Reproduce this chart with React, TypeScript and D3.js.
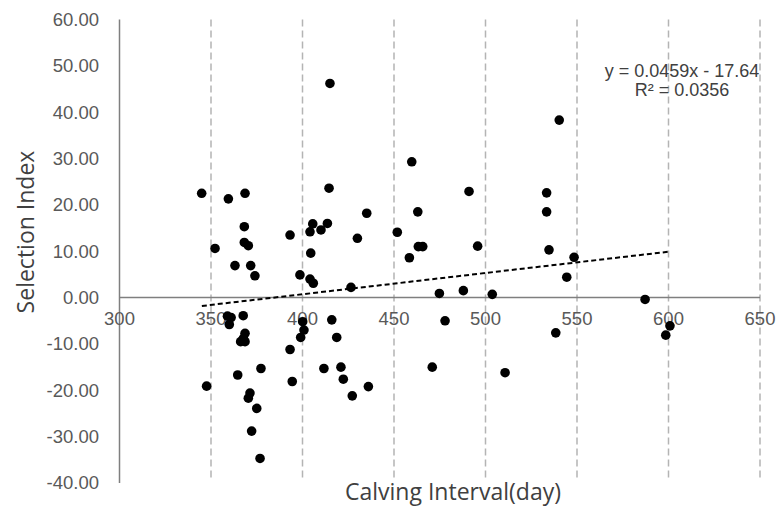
import { useEffect, useRef } from 'react'
import * as d3 from 'd3'

// calving interval (day) and selection index
const calvingDays = [
  344.9, 359.5, 368.6, 368.2, 352.2, 368.2, 370.4, 415.0, 414.5, 435.1,
  405.6, 413.6, 410.1, 404.1, 393.2, 430.0, 404.5, 363.1, 371.7, 374.0,
  398.6, 404.1, 405.9, 426.5, 359.0, 361.0, 360.0, 367.6, 368.6, 367.7,
  366.2, 368.6, 400.1, 400.8, 399.0, 393.2, 416.0, 418.7, 377.3, 364.6,
  347.6, 394.4, 411.7, 421.0, 422.3, 436.0, 427.2, 371.3, 370.4, 375.0,
  372.2, 376.8, 459.7, 491.0, 533.4, 540.3, 463.0, 533.4, 451.8, 463.3,
  465.7, 495.7, 534.7, 458.4, 544.4, 474.8, 487.9, 503.7, 477.9, 538.4,
  470.9, 510.7, 548.4, 587.2, 600.8, 598.5
]
const selectionIndex = [
  22.5, 21.3, 22.5, 15.3, 10.6, 11.9, 11.2, 46.2, 23.6, 18.2,
  15.9, 16.0, 14.6, 14.2, 13.5, 12.8, 9.6, 6.9, 6.9, 4.7,
  4.9, 4.0, 3.1, 2.2, -4.0, -4.3, -5.8, -3.9, -7.7, -8.8,
  -9.5, -9.5, -5.2, -7.0, -8.6, -11.2, -4.8, -8.6, -15.3, -16.7,
  -19.1, -18.1, -15.3, -15.0, -17.6, -19.2, -21.2, -20.6, -21.7, -23.9,
  -28.8, -34.7, 29.3, 22.9, 22.6, 38.3, 18.5, 18.5, 14.1, 11.0,
  11.0, 11.1, 10.3, 8.6, 4.4, 0.9, 1.5, 0.7, -5.0, -7.6,
  -15.0, -16.2, 8.7, -0.4, -6.1, -8.1
]
const xTicks = [300, 350, 400, 450, 500, 550, 600, 650]
const yTicks = [60, 50, 40, 30, 20, 10, 0, -10, -20, -30, -40]
const slope = 0.0459
const intercept = -17.64
const trendRange = [345, 600]
const equationLines = ['y = 0.0459x - 17.64', 'R² = 0.0356']
const xTitle = 'Calving Interval(day)'
const yTitle = 'Selection Index'

const App = () => {
  const ref = useRef<SVGSVGElement>(null)
  const width = 778
  const height = 510

  useEffect(() => {
    if (!ref.current) return
    const svg = d3.select(ref.current)
    svg.selectAll('*').remove()

    const x = d3.scaleLinear().domain([300, 650]).range([119.5, 760])
    const y = d3.scaleLinear().domain([-40, 60]).range([483, 19.5])
    const tickFont = '"Liberation Sans", Arial, sans-serif'
    const titleFont = '"Open Sans", "Noto Sans", sans-serif'

    // dashed vertical gridlines
    svg.append('g').selectAll('line')
      .data(xTicks.slice(1)).enter().append('line')
      .attr('x1', d => x(d)).attr('x2', d => x(d))
      .attr('y1', y(60)).attr('y2', y(-40) - 3)
      .attr('stroke', '#b4b4b4')
      .attr('stroke-width', 1.5)
      .attr('stroke-dasharray', '7,4')

    // axes
    svg.append('line')
      .attr('x1', x(300)).attr('x2', x(300))
      .attr('y1', y(60)).attr('y2', y(-40))
      .attr('stroke', '#7f7f7f').attr('stroke-width', 1.5)
    svg.append('line')
      .attr('x1', x(300)).attr('x2', x(650))
      .attr('y1', y(0)).attr('y2', y(0))
      .attr('stroke', '#7f7f7f').attr('stroke-width', 1.5)

    svg.append('g').selectAll('text')
      .data(yTicks).enter().append('text')
      .text(d => d.toFixed(2))
      .attr('x', 99)
      .attr('y', d => y(d))
      .attr('dy', '0.35em')
      .attr('text-anchor', 'end')
      .style('font-family', tickFont)
      .style('font-size', '18.5px')
      .attr('fill', '#595959')

    svg.append('g').selectAll('text')
      .data(xTicks).enter().append('text')
      .text(d => d)
      .attr('x', d => x(d))
      .attr('y', y(0) + 21)
      .attr('dy', '0.35em')
      .attr('text-anchor', 'middle')
      .style('font-family', tickFont)
      .style('font-size', '18.5px')
      .attr('fill', '#595959')

    // trend line
    svg.append('line')
      .attr('x1', x(trendRange[0])).attr('y1', y(slope * trendRange[0] + intercept))
      .attr('x2', x(trendRange[1])).attr('y2', y(slope * trendRange[1] + intercept))
      .attr('stroke', '#000')
      .attr('stroke-width', 2)
      .attr('stroke-dasharray', '5,3')

    // points
    svg.append('g').selectAll('circle')
      .data(calvingDays).enter().append('circle')
      .attr('cx', d => x(d))
      .attr('cy', (d, i) => y(selectionIndex[i]))
      .attr('r', 4.8)
      .attr('fill', '#000')

    svg.append('g').selectAll('text')
      .data(equationLines).enter().append('text')
      .text(d => d)
      .attr('x', 682)
      .attr('y', (d, i) => 71 + i * 19)
      .attr('dy', '0.35em')
      .attr('text-anchor', 'middle')
      .style('font-family', tickFont)
      .style('font-size', '18px')
      .attr('fill', '#404040')

    svg.append('text')
      .text(xTitle)
      .attr('x', 453)
      .attr('y', 492)
      .attr('dy', '0.35em')
      .attr('text-anchor', 'middle')
      .style('font-family', titleFont)
      .style('font-size', '23px')
      .attr('fill', '#404040')

    svg.append('text')
      .text(yTitle)
      .attr('transform', 'translate(26,232) rotate(-90)')
      .attr('dy', '0.35em')
      .attr('text-anchor', 'middle')
      .style('font-family', titleFont)
      .style('font-size', '23px')
      .attr('fill', '#404040')
  }, [])

  return (
    <svg
      ref={ref}
      width={width}
      height={height}
      style={{ position: 'absolute', left: 0, top: 0, background: '#fff' }}
    />
  )
}

export default App
